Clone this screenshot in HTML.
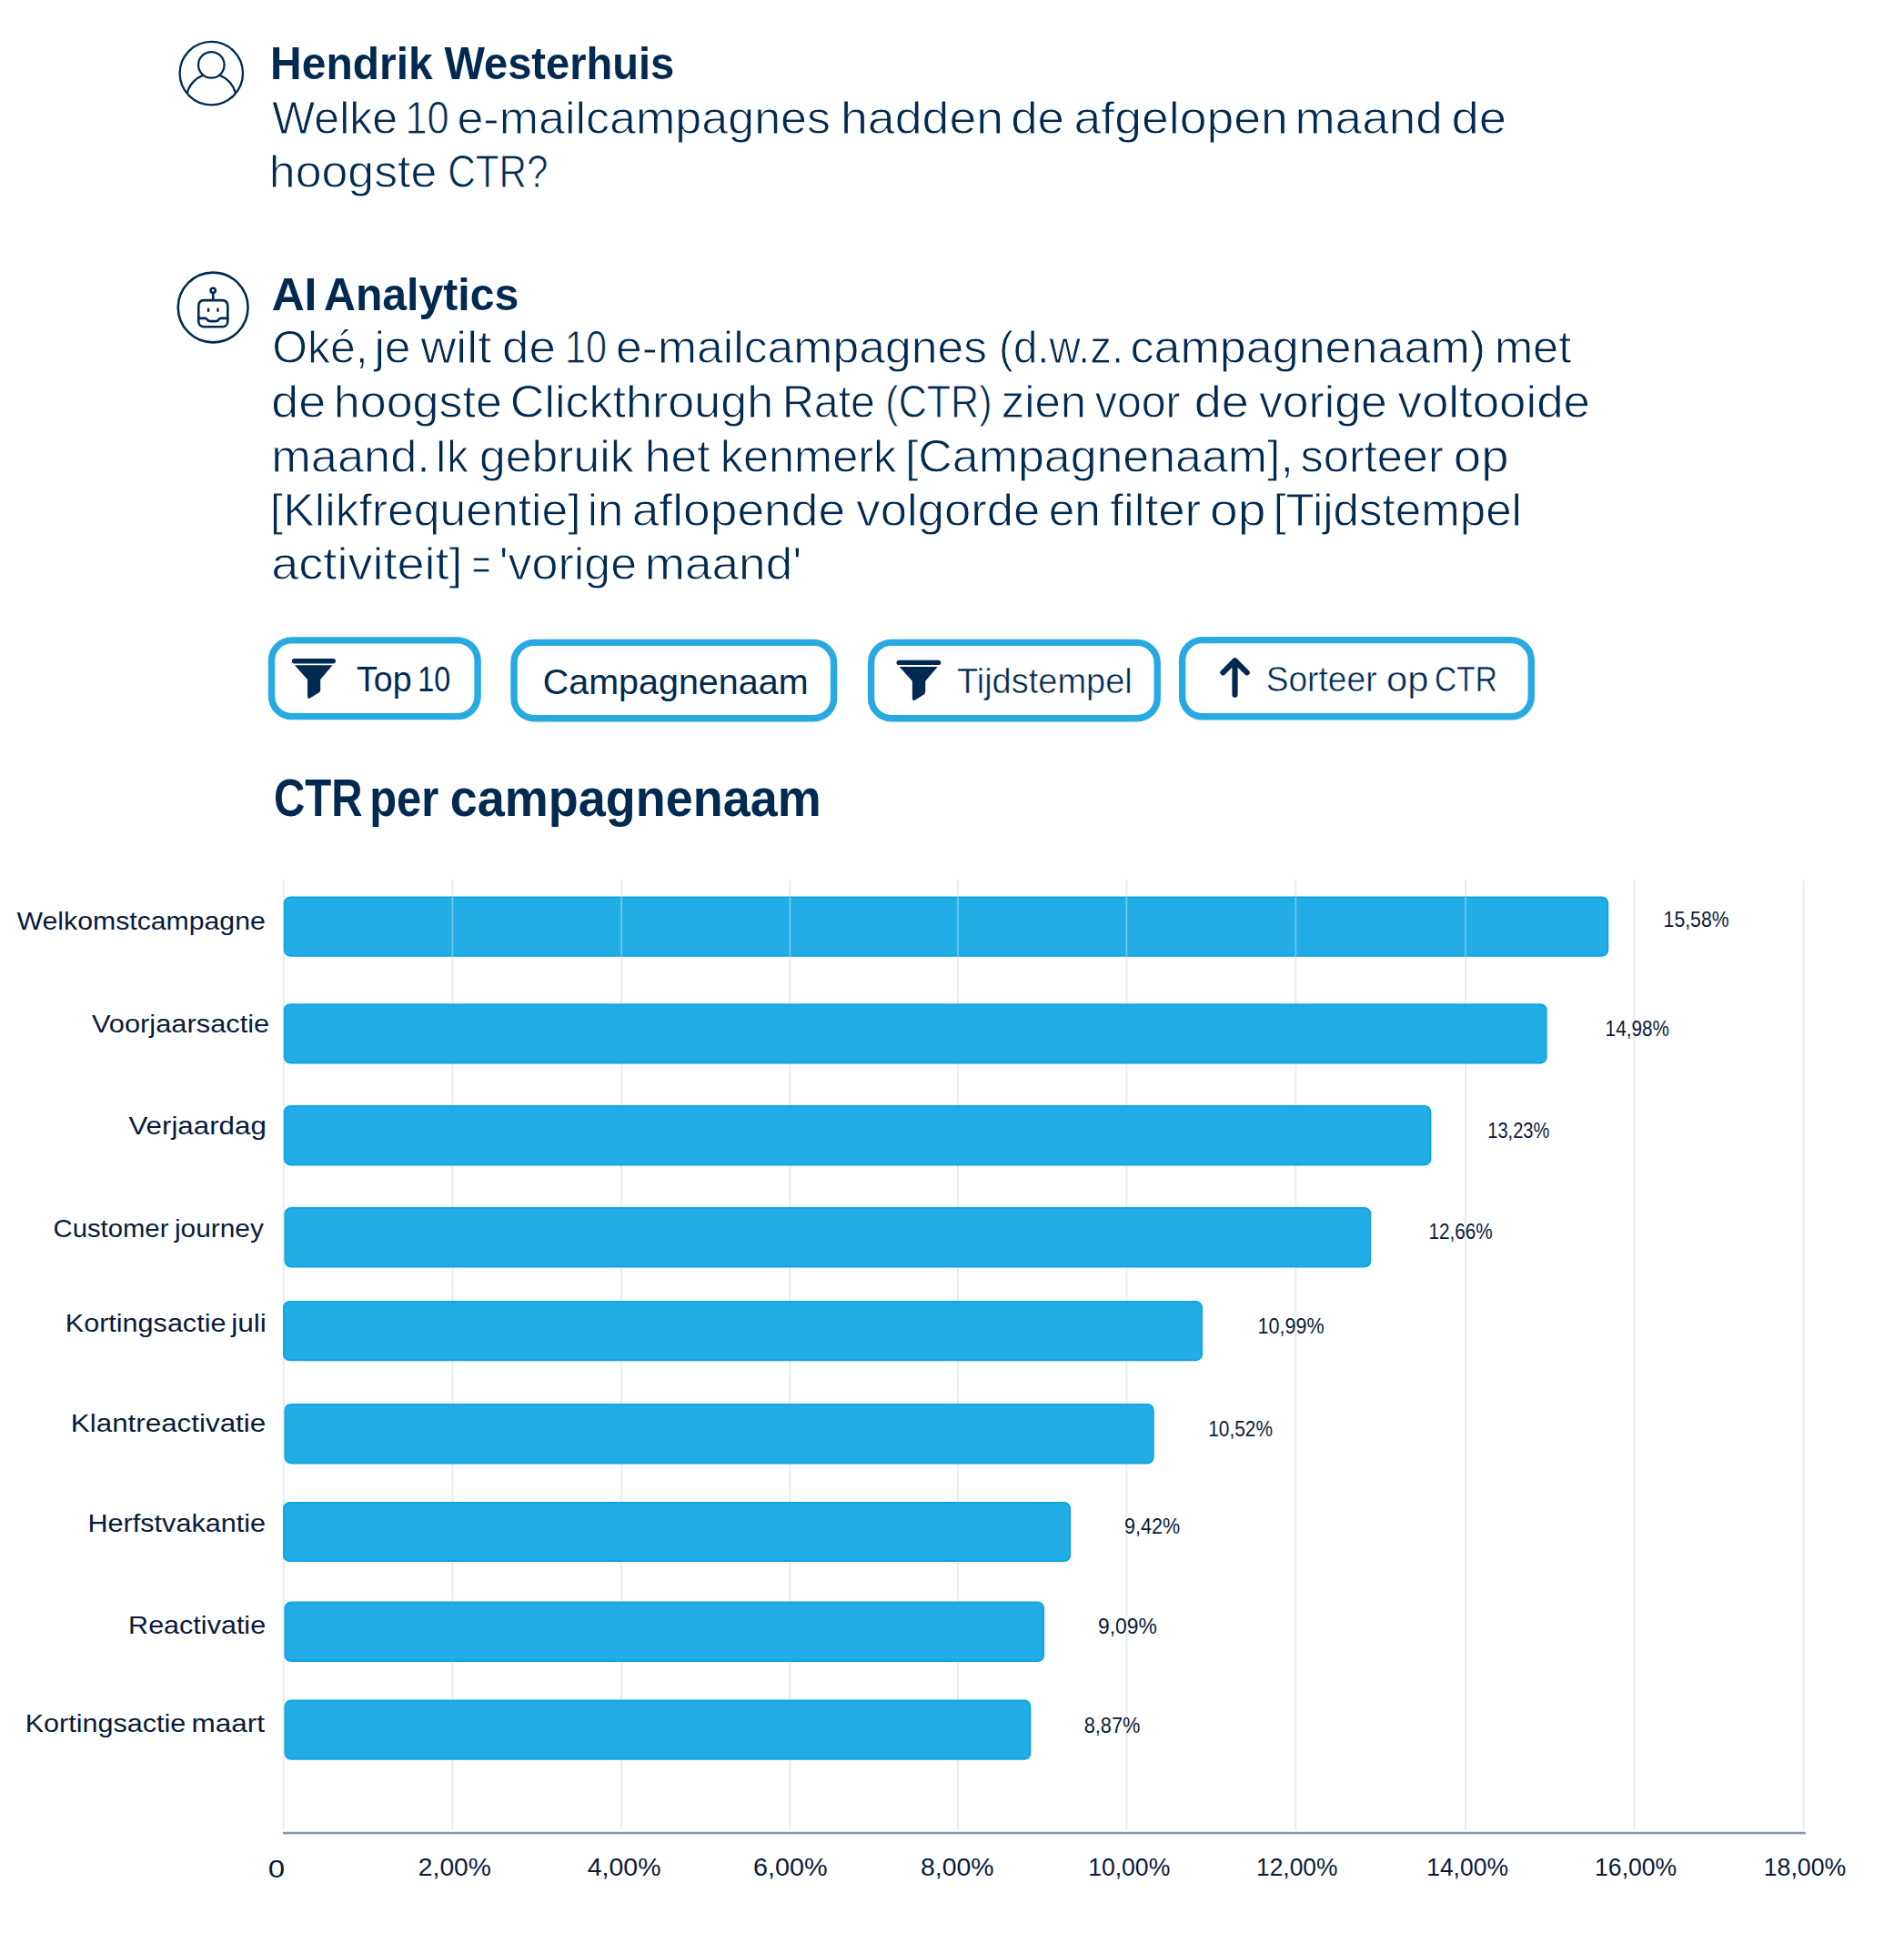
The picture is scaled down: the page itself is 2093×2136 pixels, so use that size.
<!DOCTYPE html>
<html lang="nl"><head><meta charset="utf-8"><title>AI Analytics – CTR per campagnenaam</title>
<style>
html,body{margin:0;padding:0;background:#fff}
body{width:2093px;height:2136px;overflow:hidden}
svg{display:block;font-family:"Liberation Sans", sans-serif}
text{white-space:pre}
</style></head><body>
<svg width="2093" height="2136" viewBox="0 0 2093 2136">
<rect width="2093" height="2136" fill="#fff"/>
<g fill="none" stroke="#022a51" stroke-width="2.3">
<clipPath id="uc"><circle cx="232.3" cy="80.6" r="34.7"/></clipPath>
<circle cx="232.3" cy="108.65" r="27.2" clip-path="url(#uc)"/>
<circle cx="232.3" cy="71.35" r="14.3" fill="#fff"/>
<circle cx="232.3" cy="80.6" r="34.7"/>
</g>
<g fill="none" stroke="#022a51" stroke-width="2.6" stroke-linecap="round" stroke-linejoin="round">
<circle cx="234.15" cy="338" r="38.4"/>
<rect x="218.3" y="330.1" width="32" height="29.2" rx="5.6"/>
<circle cx="234.2" cy="319.3" r="2.6"/>
<path d="M234.2 322.2V329.8"/>
<path d="M229 339.7V341.8M239.5 339.7V341.8" stroke-width="2.5"/>
<path d="M218.3 349.9H225.4C226.9 349.9 227.3 350.6 228 351.6C228.9 352.8 229.6 353.1 231 353.1H237.2C238.6 353.1 239.3 352.8 240.2 351.6C240.9 350.6 241.3 349.9 242.8 349.9H250.3"/>
</g>
<rect x="298.5" y="703.9" width="226.6" height="83.7" rx="22.3" fill="#fff" stroke="#27aae1" stroke-width="7.4"/>
<g transform="translate(320.80 724.00) scale(1.000)" fill="#022a51">
<rect x="0" y="0" width="48.2" height="5.5" rx="2.75"/>
<path d="M3.1 7.20H44.8L31.4 22.90V34.60Q31.4 36.50 29.8 37.40L20.4 43.30Q17.2 45.10 17.2 41.60V22.90Z"/>
</g>
<rect x="565.0" y="706.4" width="351.6" height="83.3" rx="22.3" fill="#fff" stroke="#27aae1" stroke-width="7.4"/>
<rect x="957.6" y="706.4" width="314.6" height="83.3" rx="22.3" fill="#fff" stroke="#27aae1" stroke-width="7.4"/>
<g transform="translate(985.50 725.85) scale(1.010)" fill="#022a51">
<rect x="0" y="0" width="48.2" height="5.2" rx="2.60"/>
<path d="M3.1 7.00H44.8L31.4 22.70V34.40Q31.4 36.30 29.8 37.20L20.4 43.10Q17.2 44.90 17.2 41.40V22.70Z"/>
</g>
<rect x="1299.6" y="703.6" width="383.7" height="84.2" rx="22.3" fill="#fff" stroke="#27aae1" stroke-width="7.4"/>
<path d="M1357.5 763.7V726.4M1344.4 739.4L1357.5 726.3L1370.7 739.4" fill="none" stroke="#022a51" stroke-width="6.2" stroke-linecap="round" stroke-linejoin="round"/>
<rect x="310.85" y="967.3" width="1.9" height="1044.3" fill="#e5ebf1"/>
<rect x="496.45" y="967.3" width="1.9" height="1044.3" fill="#e5ebf1"/>
<rect x="682.15" y="967.3" width="1.9" height="1044.3" fill="#e5ebf1"/>
<rect x="867.45" y="967.3" width="1.9" height="1044.3" fill="#e5ebf1"/>
<rect x="1051.95" y="967.3" width="1.9" height="1044.3" fill="#e5ebf1"/>
<rect x="1237.45" y="967.3" width="1.9" height="1044.3" fill="#e5ebf1"/>
<rect x="1423.45" y="967.3" width="1.9" height="1044.3" fill="#e5ebf1"/>
<rect x="1610.05" y="967.3" width="1.9" height="1044.3" fill="#e5ebf1"/>
<rect x="1795.75" y="967.3" width="1.9" height="1044.3" fill="#e5ebf1"/>
<rect x="1981.75" y="967.3" width="1.9" height="1044.3" fill="#e5ebf1"/>
<rect x="312.8" y="986.5" width="1454.5" height="64.2" rx="6.3" fill="#23ade6" stroke="#10a5e3" stroke-width="2"/>
<rect x="312.8" y="1104.2" width="1386.9" height="64.2" rx="6.3" fill="#23ade6" stroke="#10a5e3" stroke-width="2"/>
<rect x="312.8" y="1215.9" width="1259.6" height="64.6" rx="6.3" fill="#23ade6" stroke="#10a5e3" stroke-width="2"/>
<rect x="313.5" y="1328.1" width="1192.8" height="64.5" rx="6.3" fill="#23ade6" stroke="#10a5e3" stroke-width="2"/>
<rect x="312.0" y="1431.0" width="1009.0" height="64.2" rx="6.3" fill="#23ade6" stroke="#10a5e3" stroke-width="2"/>
<rect x="313.5" y="1543.9" width="954.2" height="64.5" rx="6.3" fill="#23ade6" stroke="#10a5e3" stroke-width="2"/>
<rect x="312.0" y="1652.0" width="864.1" height="64.1" rx="6.3" fill="#23ade6" stroke="#10a5e3" stroke-width="2"/>
<rect x="313.5" y="1761.5" width="833.6" height="64.6" rx="6.3" fill="#23ade6" stroke="#10a5e3" stroke-width="2"/>
<rect x="313.5" y="1869.6" width="818.9" height="64.2" rx="6.3" fill="#23ade6" stroke="#10a5e3" stroke-width="2"/>
<rect x="496.6" y="985.7" width="1.6" height="66" fill="#fff" opacity="0.36"/>
<rect x="682.3" y="985.7" width="1.6" height="66" fill="#fff" opacity="0.36"/>
<rect x="867.6" y="985.7" width="1.6" height="66" fill="#fff" opacity="0.36"/>
<rect x="1052.1" y="985.7" width="1.6" height="66" fill="#fff" opacity="0.36"/>
<rect x="1237.6" y="985.7" width="1.6" height="66" fill="#fff" opacity="0.36"/>
<rect x="1423.6" y="985.7" width="1.6" height="66" fill="#fff" opacity="0.36"/>
<rect x="1610.2" y="985.7" width="1.6" height="66" fill="#fff" opacity="0.36"/>
<rect x="311" y="2013.8" width="1673.8" height="2.6" fill="#8899ad"/>
<text x="297.09" y="87.3" font-size="49.7" font-weight="bold" textLength="178.56" lengthAdjust="spacingAndGlyphs" fill="#022a51">Hendrik</text>
<text x="488.45" y="87.3" font-size="49.7" font-weight="bold" textLength="252.78" lengthAdjust="spacingAndGlyphs" fill="#022a51">Westerhuis</text>
<text x="299.03" y="147.2" font-size="50.4" textLength="138.14" lengthAdjust="spacingAndGlyphs" fill="#022a51" stroke="#fff" stroke-width="0.9">Welke</text>
<text x="445.45" y="147.2" font-size="50.4" textLength="48.19" lengthAdjust="spacingAndGlyphs" fill="#022a51" stroke="#fff" stroke-width="0.9">10</text>
<text x="502.44" y="147.2" font-size="50.4" textLength="410.59" lengthAdjust="spacingAndGlyphs" fill="#022a51" stroke="#fff" stroke-width="0.9">e-mailcampagnes</text>
<text x="924.03" y="147.2" font-size="50.4" textLength="179.11" lengthAdjust="spacingAndGlyphs" fill="#022a51" stroke="#fff" stroke-width="0.9">hadden</text>
<text x="1111.23" y="147.2" font-size="50.4" textLength="58.77" lengthAdjust="spacingAndGlyphs" fill="#022a51" stroke="#fff" stroke-width="0.9">de</text>
<text x="1180.57" y="147.2" font-size="50.4" textLength="235.25" lengthAdjust="spacingAndGlyphs" fill="#022a51" stroke="#fff" stroke-width="0.9">afgelopen</text>
<text x="1423.43" y="147.2" font-size="50.4" textLength="162.24" lengthAdjust="spacingAndGlyphs" fill="#022a51" stroke="#fff" stroke-width="0.9">maand</text>
<text x="1595.56" y="147.2" font-size="50.4" textLength="60.61" lengthAdjust="spacingAndGlyphs" fill="#022a51" stroke="#fff" stroke-width="0.9">de</text>
<text x="295.86" y="205.9" font-size="50.4" textLength="184.40" lengthAdjust="spacingAndGlyphs" fill="#022a51" stroke="#fff" stroke-width="0.9">hoogste</text>
<text x="492.20" y="205.9" font-size="50.4" textLength="110.42" lengthAdjust="spacingAndGlyphs" fill="#022a51" stroke="#fff" stroke-width="0.9">CTR?</text>
<text x="298.66" y="340.9" font-size="49.7" font-weight="bold" textLength="49.77" lengthAdjust="spacingAndGlyphs" fill="#022a51">AI</text>
<text x="356.10" y="340.9" font-size="49.7" font-weight="bold" textLength="214.18" lengthAdjust="spacingAndGlyphs" fill="#022a51">Analytics</text>
<text x="299.29" y="399.4" font-size="50.4" textLength="105.24" lengthAdjust="spacingAndGlyphs" fill="#022a51" stroke="#fff" stroke-width="0.9">Oké,</text>
<text x="411.41" y="399.4" font-size="50.4" textLength="40.13" lengthAdjust="spacingAndGlyphs" fill="#022a51" stroke="#fff" stroke-width="0.9">je</text>
<text x="462.43" y="399.4" font-size="50.4" textLength="77.72" lengthAdjust="spacingAndGlyphs" fill="#022a51" stroke="#fff" stroke-width="0.9">wilt</text>
<text x="552.03" y="399.4" font-size="50.4" textLength="58.77" lengthAdjust="spacingAndGlyphs" fill="#022a51" stroke="#fff" stroke-width="0.9">de</text>
<text x="621.00" y="399.4" font-size="50.4" textLength="46.07" lengthAdjust="spacingAndGlyphs" fill="#022a51" stroke="#fff" stroke-width="0.9">10</text>
<text x="677.05" y="399.4" font-size="50.4" textLength="407.96" lengthAdjust="spacingAndGlyphs" fill="#022a51" stroke="#fff" stroke-width="0.9">e-mailcampagnes</text>
<text x="1098.11" y="399.4" font-size="50.4" textLength="136.97" lengthAdjust="spacingAndGlyphs" fill="#022a51" stroke="#fff" stroke-width="0.9">(d.w.z.</text>
<text x="1242.54" y="399.4" font-size="50.4" textLength="390.54" lengthAdjust="spacingAndGlyphs" fill="#022a51" stroke="#fff" stroke-width="0.9">campagnenaam)</text>
<text x="1642.88" y="399.4" font-size="50.4" textLength="84.54" lengthAdjust="spacingAndGlyphs" fill="#022a51" stroke="#fff" stroke-width="0.9">met</text>
<text x="298.29" y="458.9" font-size="50.4" textLength="59.96" lengthAdjust="spacingAndGlyphs" fill="#022a51" stroke="#fff" stroke-width="0.9">de</text>
<text x="366.84" y="458.9" font-size="50.4" textLength="185.12" lengthAdjust="spacingAndGlyphs" fill="#022a51" stroke="#fff" stroke-width="0.9">hoogste</text>
<text x="560.81" y="458.9" font-size="50.4" textLength="289.32" lengthAdjust="spacingAndGlyphs" fill="#022a51" stroke="#fff" stroke-width="0.9">Clickthrough</text>
<text x="859.88" y="458.9" font-size="50.4" textLength="102.11" lengthAdjust="spacingAndGlyphs" fill="#022a51" stroke="#fff" stroke-width="0.9">Rate</text>
<text x="973.28" y="458.9" font-size="50.4" textLength="117.35" lengthAdjust="spacingAndGlyphs" fill="#022a51" stroke="#fff" stroke-width="0.9">(CTR)</text>
<text x="1100.79" y="458.9" font-size="50.4" textLength="93.37" lengthAdjust="spacingAndGlyphs" fill="#022a51" stroke="#fff" stroke-width="0.9">zien</text>
<text x="1203.79" y="458.9" font-size="50.4" textLength="93.77" lengthAdjust="spacingAndGlyphs" fill="#022a51" stroke="#fff" stroke-width="0.9">voor</text>
<text x="1312.68" y="458.9" font-size="50.4" textLength="60.07" lengthAdjust="spacingAndGlyphs" fill="#022a51" stroke="#fff" stroke-width="0.9">de</text>
<text x="1383.97" y="458.9" font-size="50.4" textLength="140.77" lengthAdjust="spacingAndGlyphs" fill="#022a51" stroke="#fff" stroke-width="0.9">vorige</text>
<text x="1536.47" y="458.9" font-size="50.4" textLength="211.53" lengthAdjust="spacingAndGlyphs" fill="#022a51" stroke="#fff" stroke-width="0.9">voltooide</text>
<text x="298.17" y="518.8" font-size="50.4" textLength="174.66" lengthAdjust="spacingAndGlyphs" fill="#022a51" stroke="#fff" stroke-width="0.9">maand.</text>
<text x="478.22" y="518.8" font-size="50.4" textLength="36.46" lengthAdjust="spacingAndGlyphs" fill="#022a51" stroke="#fff" stroke-width="0.9">Ik</text>
<text x="527.08" y="518.8" font-size="50.4" textLength="169.60" lengthAdjust="spacingAndGlyphs" fill="#022a51" stroke="#fff" stroke-width="0.9">gebruik</text>
<text x="708.77" y="518.8" font-size="50.4" textLength="71.76" lengthAdjust="spacingAndGlyphs" fill="#022a51" stroke="#fff" stroke-width="0.9">het</text>
<text x="791.65" y="518.8" font-size="50.4" textLength="193.73" lengthAdjust="spacingAndGlyphs" fill="#022a51" stroke="#fff" stroke-width="0.9">kenmerk</text>
<text x="994.95" y="518.8" font-size="50.4" textLength="426.96" lengthAdjust="spacingAndGlyphs" fill="#022a51" stroke="#fff" stroke-width="0.9">[Campagnenaam],</text>
<text x="1429.64" y="518.8" font-size="50.4" textLength="157.14" lengthAdjust="spacingAndGlyphs" fill="#022a51" stroke="#fff" stroke-width="0.9">sorteer</text>
<text x="1597.86" y="518.8" font-size="50.4" textLength="60.68" lengthAdjust="spacingAndGlyphs" fill="#022a51" stroke="#fff" stroke-width="0.9">op</text>
<text x="296.87" y="578.1" font-size="50.4" textLength="341.77" lengthAdjust="spacingAndGlyphs" fill="#022a51" stroke="#fff" stroke-width="0.9">[Klikfrequentie]</text>
<text x="645.76" y="578.1" font-size="50.4" textLength="39.49" lengthAdjust="spacingAndGlyphs" fill="#022a51" stroke="#fff" stroke-width="0.9">in</text>
<text x="694.68" y="578.1" font-size="50.4" textLength="234.44" lengthAdjust="spacingAndGlyphs" fill="#022a51" stroke="#fff" stroke-width="0.9">aflopende</text>
<text x="941.37" y="578.1" font-size="50.4" textLength="202.02" lengthAdjust="spacingAndGlyphs" fill="#022a51" stroke="#fff" stroke-width="0.9">volgorde</text>
<text x="1152.67" y="578.1" font-size="50.4" textLength="57.12" lengthAdjust="spacingAndGlyphs" fill="#022a51" stroke="#fff" stroke-width="0.9">en</text>
<text x="1220.30" y="578.1" font-size="50.4" textLength="99.93" lengthAdjust="spacingAndGlyphs" fill="#022a51" stroke="#fff" stroke-width="0.9">filter</text>
<text x="1330.13" y="578.1" font-size="50.4" textLength="61.44" lengthAdjust="spacingAndGlyphs" fill="#022a51" stroke="#fff" stroke-width="0.9">op</text>
<text x="1399.41" y="578.1" font-size="50.4" textLength="273.56" lengthAdjust="spacingAndGlyphs" fill="#022a51" stroke="#fff" stroke-width="0.9">[Tijdstempel</text>
<text x="298.25" y="637.2" font-size="50.4" textLength="210.35" lengthAdjust="spacingAndGlyphs" fill="#022a51" stroke="#fff" stroke-width="0.9">activiteit]</text>
<text x="518.73" y="637.2" font-size="50.4" textLength="20.55" lengthAdjust="spacingAndGlyphs" fill="#022a51" stroke="#fff" stroke-width="0.9">=</text>
<text x="548.71" y="637.2" font-size="50.4" textLength="151.45" lengthAdjust="spacingAndGlyphs" fill="#022a51" stroke="#fff" stroke-width="0.9">'vorige</text>
<text x="708.82" y="637.2" font-size="50.4" textLength="172.50" lengthAdjust="spacingAndGlyphs" fill="#022a51" stroke="#fff" stroke-width="0.9">maand'</text>
<text x="392.06" y="759.6" font-size="38.4" textLength="60.52" lengthAdjust="spacingAndGlyphs" fill="#022a51">Top</text>
<text x="459.35" y="759.6" font-size="38.4" textLength="35.81" lengthAdjust="spacingAndGlyphs" fill="#022a51">10</text>
<text x="596.80" y="762.7" font-size="38.4" textLength="291.71" lengthAdjust="spacingAndGlyphs" fill="#022a51">Campagnenaam</text>
<text x="1051.90" y="762.1" font-size="38.4" textLength="192.90" lengthAdjust="spacingAndGlyphs" fill="#022a51" stroke="#fff" stroke-width="0.5">Tijdstempel</text>
<text x="1391.66" y="759.5" font-size="38.4" textLength="121.91" lengthAdjust="spacingAndGlyphs" fill="#022a51" stroke="#fff" stroke-width="0.5">Sorteer</text>
<text x="1523.99" y="759.5" font-size="38.4" textLength="46.51" lengthAdjust="spacingAndGlyphs" fill="#022a51" stroke="#fff" stroke-width="0.5">op</text>
<text x="1577.05" y="759.5" font-size="38.4" textLength="68.75" lengthAdjust="spacingAndGlyphs" fill="#022a51" stroke="#fff" stroke-width="0.5">CTR</text>
<text x="301.05" y="897.0" font-size="57.4" font-weight="bold" textLength="97.52" lengthAdjust="spacingAndGlyphs" fill="#022a51">CTR</text>
<text x="406.18" y="897.0" font-size="57.4" font-weight="bold" textLength="76.06" lengthAdjust="spacingAndGlyphs" fill="#022a51">per</text>
<text x="494.79" y="897.0" font-size="57.4" font-weight="bold" textLength="408.06" lengthAdjust="spacingAndGlyphs" fill="#022a51">campagnenaam</text>
<text x="18.57" y="1022.2" font-size="28.0" textLength="273.18" lengthAdjust="spacingAndGlyphs" fill="#0b1a3b">Welkomstcampagne</text>
<text x="1828.58" y="1018.9" font-size="24.1" textLength="71.97" lengthAdjust="spacingAndGlyphs" fill="#0b1a3b">15,58%</text>
<text x="100.96" y="1134.7" font-size="27.5" textLength="195.30" lengthAdjust="spacingAndGlyphs" fill="#0b1a3b">Voorjaarsactie</text>
<text x="1764.62" y="1138.6" font-size="24.1" textLength="70.32" lengthAdjust="spacingAndGlyphs" fill="#0b1a3b">14,98%</text>
<text x="141.46" y="1247.2" font-size="27.3" textLength="151.35" lengthAdjust="spacingAndGlyphs" fill="#0b1a3b">Verjaardag</text>
<text x="1635.27" y="1250.7" font-size="24.1" textLength="68.04" lengthAdjust="spacingAndGlyphs" fill="#0b1a3b">13,23%</text>
<text x="58.61" y="1359.7" font-size="27.3" textLength="126.77" lengthAdjust="spacingAndGlyphs" fill="#0b1a3b">Customer</text>
<text x="191.93" y="1359.7" font-size="27.3" textLength="97.93" lengthAdjust="spacingAndGlyphs" fill="#0b1a3b">journey</text>
<text x="1570.42" y="1361.8" font-size="24.1" textLength="70.32" lengthAdjust="spacingAndGlyphs" fill="#0b1a3b">12,66%</text>
<text x="71.79" y="1463.5" font-size="27.5" textLength="176.66" lengthAdjust="spacingAndGlyphs" fill="#0b1a3b">Kortingsactie</text>
<text x="254.17" y="1463.5" font-size="27.5" textLength="38.76" lengthAdjust="spacingAndGlyphs" fill="#0b1a3b">juli</text>
<text x="1382.56" y="1466.2" font-size="24.1" textLength="73.01" lengthAdjust="spacingAndGlyphs" fill="#0b1a3b">10,99%</text>
<text x="77.83" y="1574.3" font-size="27.5" textLength="214.37" lengthAdjust="spacingAndGlyphs" fill="#0b1a3b">Klantreactivatie</text>
<text x="1328.21" y="1579.0" font-size="24.1" textLength="70.73" lengthAdjust="spacingAndGlyphs" fill="#0b1a3b">10,52%</text>
<text x="96.49" y="1683.5" font-size="27.3" textLength="195.67" lengthAdjust="spacingAndGlyphs" fill="#0b1a3b">Herfstvakantie</text>
<text x="1236.09" y="1686.0" font-size="24.1" textLength="60.97" lengthAdjust="spacingAndGlyphs" fill="#0b1a3b">9,42%</text>
<text x="141.09" y="1795.7" font-size="27.2" textLength="151.06" lengthAdjust="spacingAndGlyphs" fill="#0b1a3b">Reactivatie</text>
<text x="1207.03" y="1796.3" font-size="24.1" textLength="64.79" lengthAdjust="spacingAndGlyphs" fill="#0b1a3b">9,09%</text>
<text x="27.69" y="1903.7" font-size="27.3" textLength="176.67" lengthAdjust="spacingAndGlyphs" fill="#0b1a3b">Kortingsactie</text>
<text x="210.41" y="1903.7" font-size="27.3" textLength="80.63" lengthAdjust="spacingAndGlyphs" fill="#0b1a3b">maart</text>
<text x="1191.65" y="1904.8" font-size="24.1" textLength="61.72" lengthAdjust="spacingAndGlyphs" fill="#0b1a3b">8,87%</text>
<text x="294.71" y="2064.3" font-size="27" textLength="18.38" lengthAdjust="spacingAndGlyphs" fill="#0b1a3b">0</text>
<text x="459.88" y="2062.3" font-size="28" textLength="79.92" lengthAdjust="spacingAndGlyphs" fill="#0b1a3b">2,00%</text>
<text x="645.75" y="2062.3" font-size="28" textLength="80.77" lengthAdjust="spacingAndGlyphs" fill="#0b1a3b">4,00%</text>
<text x="827.94" y="2062.3" font-size="28" textLength="81.59" lengthAdjust="spacingAndGlyphs" fill="#0b1a3b">6,00%</text>
<text x="1011.97" y="2062.3" font-size="28" textLength="80.55" lengthAdjust="spacingAndGlyphs" fill="#0b1a3b">8,00%</text>
<text x="1196.18" y="2062.3" font-size="28" textLength="90.07" lengthAdjust="spacingAndGlyphs" fill="#0b1a3b">10,00%</text>
<text x="1380.99" y="2062.3" font-size="28" textLength="89.45" lengthAdjust="spacingAndGlyphs" fill="#0b1a3b">12,00%</text>
<text x="1568.18" y="2062.3" font-size="28" textLength="89.76" lengthAdjust="spacingAndGlyphs" fill="#0b1a3b">14,00%</text>
<text x="1753.07" y="2062.3" font-size="28" textLength="90.17" lengthAdjust="spacingAndGlyphs" fill="#0b1a3b">16,00%</text>
<text x="1938.77" y="2062.3" font-size="28" textLength="90.48" lengthAdjust="spacingAndGlyphs" fill="#0b1a3b">18,00%</text>
</svg>
</body></html>
